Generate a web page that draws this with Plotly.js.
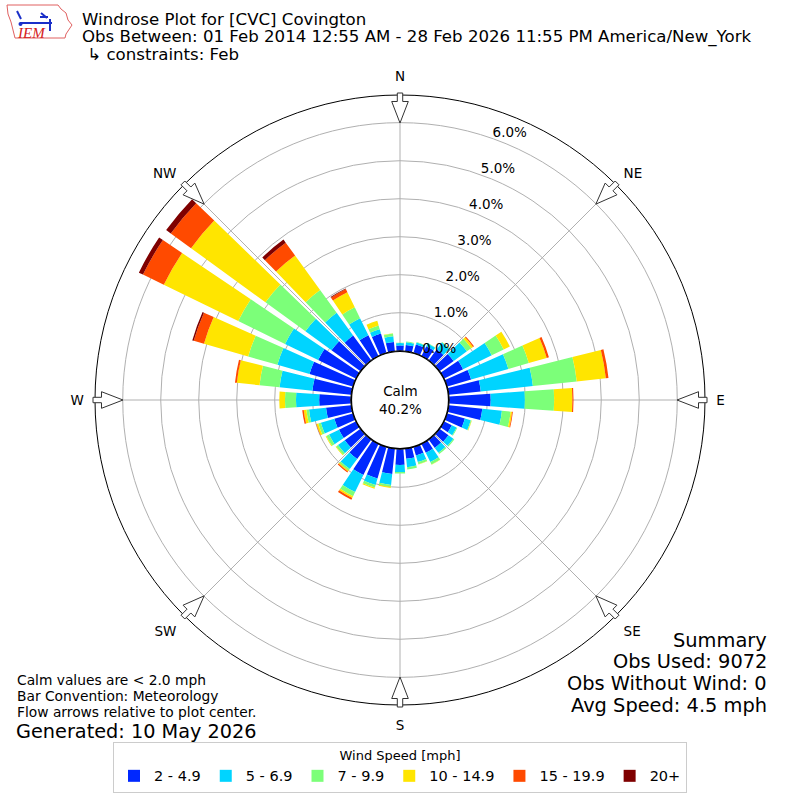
<!DOCTYPE html>
<html><head><meta charset="utf-8">
<script src="https://cdn.plot.ly/plotly-3.0.1.min.js"></script>
<style>html,body{margin:0;padding:0;background:#fff}#chart{width:800px;height:800px}</style>
</head><body><div id="chart"></div>
<script>
// ---- data (percent of observations per 10-degree direction bin) ----
const directions = [0,10,20,30,40,50,60,70,80,90,100,110,120,130,140,150,160,170,180,190,200,210,220,230,240,250,260,270,280,290,300,310,320,330,340,350];
const speedLabels = ['2 - 4.9','5 - 6.9','7 - 9.9','10 - 14.9','15 - 19.9','20+'];
const speedColors = ['#0028ff','#00d4ff','#7cff79','#ffe500','#ff4a00','#7f0000'];
const pct_2_4_9   = [0.14,0.16,0.22,0.28,0.35,0.45,0.55,0.65,0.84,1.09,0.88,0.48,0.22,0.28,0.26,0.25,0.22,0.26,0.41,0.66,0.85,0.90,0.62,0.50,0.49,0.50,0.66,0.83,1.02,1.18,1.10,0.93,0.80,0.60,0.52,0.24];
const pct_5_6_9   = [0.06,0.07,0.06,0.08,0.22,0.43,0.84,1.02,1.38,0.90,0.52,0.16,0.14,0.16,0.16,0.27,0.18,0.22,0.19,0.29,0.18,0.50,0.33,0.22,0.29,0.37,0.45,0.61,0.87,0.88,0.97,0.85,0.74,0.50,0.12,0.15];
const pct_7_9_9   = [0.01,0.02,0.01,0.01,0.02,0.14,0.35,0.56,1.16,0.77,0.23,0.02,0.02,0.03,0.04,0.07,0.06,0.06,0.04,0.05,0.07,0.12,0.05,0.06,0.08,0.07,0.07,0.29,0.53,0.80,1.37,1.30,0.74,0.32,0.10,0.07];
const pct_10_14_9 = [0,0,0,0,0,0.06,0.18,0.49,0.77,0.48,0.04,0.01,0,0,0,0.01,0.01,0,0,0.03,0.03,0.05,0.03,0.02,0.02,0.05,0.07,0.15,0.60,1.21,2.18,2.42,1.12,0.44,0.13,0.01];
const pct_15_19_9 = [0,0,0,0,0,0.03,0,0.06,0.07,0.03,0.02,0,0,0,0,0,0,0,0,0,0,0.05,0.03,0,0,0.01,0.04,0,0.05,0.28,0.61,0.66,0.42,0.09,0,0];
const pct_20_plus = [0,0,0,0,0,0,0,0,0,0,0,0,0,0,0,0,0,0,0,0,0,0,0,0,0,0,0,0,0,0.04,0.12,0.15,0.10,0.02,0,0];
const radialTicks = [0,1,2,3,4,5,6];
const radialTickText = ['0.0%','1.0%','2.0%','3.0%','4.0%','5.0%','6.0%'];
const compassAngles = [0,45,90,135,180,225,270,315];
const compassLabels = ['N','NE','E','SE','S','SW','W','NW'];
const calmText = 'Calm<br>40.2%';
const titleLines = ['Windrose Plot for [CVC] Covington',
  'Obs Between: 01 Feb 2014 12:55 AM - 28 Feb 2026 11:55 PM America/New_York',
  ' \u21b3 constraints: Feb'];
const noteLines = ['Calm values are < 2.0 mph','Bar Convention: Meteorology','Flow arrows relative to plot center.'];
const generatedText = 'Generated: 10 May 2026';
const summaryLines = ['Summary','Obs Used: 9072','Obs Without Wind: 0','Avg Speed: 4.5 mph'];

// ---- build ----
const FONT = 'DejaVu Sans, Verdana, sans-serif';
const W = 800, H = 800, CX = 400, CY = 400, R = 305, HOLE = 49.3;
const series = [pct_2_4_9, pct_5_6_9, pct_7_9_9, pct_10_14_9, pct_15_19_9, pct_20_plus];
const traces = series.map((vals, i) => ({
  type: 'barpolar', name: speedLabels[i], theta: directions, r: vals, width: 8,
  marker: {color: speedColors[i], line: {width: 0}}, hoverinfo: 'skip'
}));

const px = x => x / W, py = y => 1 - y / H;
const shapes = [];
// compass flow arrows
compassAngles.forEach(b => {
  const rad = b * Math.PI / 180;
  const ux = Math.sin(rad), uy = -Math.cos(rad), nx = Math.cos(rad), ny = Math.sin(rad);
  const pt = (r, s) => [CX + r * ux + s * nx, CY + r * uy + s * ny];
  const pts = [pt(307,-2.7), pt(307,2.7), pt(298.5,2.7), pt(298.5,8.3), pt(277,0), pt(298.5,-8.3), pt(298.5,-2.7)];
  const d = 'M ' + pts.map(p => px(p[0]).toFixed(5) + ',' + py(p[1]).toFixed(5)).join(' L ') + ' Z';
  shapes.push({type: 'path', xref: 'paper', yref: 'paper', path: d, fillcolor: '#ffffff', line: {color: '#333333', width: 1}});
});
// calm circle
shapes.push({type: 'circle', xref: 'paper', yref: 'paper', x0: px(CX - 48.5), x1: px(CX + 48.5), y0: py(CY + 48.5), y1: py(CY - 48.5), line: {color: '#000', width: 1.2}, fillcolor: 'rgba(0,0,0,0)'});
// logo: Iowa outline
const iowa = [[7,5],[58,5],[61,9],[66,13],[68,20],[72,25],[68,31],[66,34],[65,38],[15,38],[13,30],[11,22],[8,14]];
shapes.push({type: 'path', xref: 'paper', yref: 'paper', path: 'M ' + iowa.map(p => px(p[0]) + ',' + py(p[1])).join(' L ') + ' Z', line: {color: '#e06060', width: 1}, fillcolor: 'rgba(0,0,0,0)'});
const logoLines = [[[20,23],[52,23]],[[17,11],[21,19]],[[50,19],[50,31]],[[41,13],[47,18]],[[40,17],[48,17]]];
logoLines.forEach(l => shapes.push({type: 'line', xref: 'paper', yref: 'paper', x0: px(l[0][0]), y0: py(l[0][1]), x1: px(l[1][0]), y1: py(l[1][1]), line: {color: '#1a2fc8', width: 2}}));
shapes.push({type: 'circle', xref: 'paper', yref: 'paper', x0: px(18.5), x1: px(22.5), y0: py(26), y1: py(22), fillcolor: '#1a2fc8', line: {width: 0}});

const ann = [];
ann.push({text: 'IEM', x: px(31), y: py(33), xref: 'paper', yref: 'paper', showarrow: false, xanchor: 'center', yanchor: 'middle', font: {family: 'Liberation Serif, serif', size: 15, color: '#d42020', style: 'italic'}});
titleLines.forEach((t, i) => ann.push({text: t, x: px(80), y: py(19 + 18 * i), xref: 'paper', yref: 'paper', showarrow: false, xanchor: 'left', yanchor: 'middle', font: {family: FONT, size: 16.6, color: '#000'}}));
noteLines.forEach((t, i) => ann.push({text: t, x: px(15), y: py(679.5 + 16.3 * i), xref: 'paper', yref: 'paper', showarrow: false, xanchor: 'left', yanchor: 'middle', font: {family: FONT, size: 13.8, color: '#000'}}));
ann.push({text: generatedText, x: px(14), y: py(731), xref: 'paper', yref: 'paper', showarrow: false, xanchor: 'left', yanchor: 'middle', font: {family: FONT, size: 19.3, color: '#000'}});
summaryLines.forEach((t, i) => ann.push({text: t, x: px(769), y: py(640 + 21.7 * i), xref: 'paper', yref: 'paper', showarrow: false, xanchor: 'right', yanchor: 'middle', font: {family: FONT, size: 19.4, color: '#000'}}));
ann.push({text: calmText, x: 0.5, y: py(400), xref: 'paper', yref: 'paper', showarrow: false, xanchor: 'center', yanchor: 'middle', font: {family: FONT, size: 13.5, color: '#000'}});

const layout = {
  width: W, height: H, margin: {l: 0, r: 0, t: 0, b: 0},
  paper_bgcolor: '#fff', font: {family: FONT, color: '#000'},
  showlegend: true,
  legend: {orientation: 'h', x: 0.5, xanchor: 'center', y: py(742), yanchor: 'top',
    title: {text: 'Wind Speed [mph]', side: 'top center', font: {size: 13, family: FONT}},
    font: {size: 14.5, family: FONT}, bordercolor: '#cccccc', borderwidth: 1, bgcolor: '#fff', traceorder: 'normal'},
  polar: {
    domain: {x: [px(CX - R), px(CX + R)], y: [py(CY + R), py(CY - R)]},
    hole: HOLE / R, bgcolor: 'rgba(0,0,0,0)', barmode: 'stack', layer: 'above traces',
    angularaxis: {rotation: 90, direction: 'clockwise', tickmode: 'array', tickvals: compassAngles, ticktext: compassLabels,
      showline: true, linecolor: '#000', linewidth: 1, gridcolor: '#b0b0b0', gridwidth: 1,
      ticks: 'outside', ticklen: 8, tickcolor: 'rgba(0,0,0,0)', tickfont: {size: 13.5, family: FONT, color: '#000'}},
    radialaxis: {range: [0, 6.73], tickmode: 'array', tickvals: radialTicks, ticktext: radialTickText.map(t => t + '<br>\u00a0'),
      angle: 72, tickangle: 72, side: 'clockwise', showline: false, ticks: '',
      gridcolor: '#b0b0b0', gridwidth: 1, tickfont: {size: 13.5, family: FONT, color: '#000'}}
  },
  shapes: shapes, annotations: ann
};
Plotly.newPlot('chart', traces, layout, {displayModeBar: false, staticPlot: true});
</script></body></html>
